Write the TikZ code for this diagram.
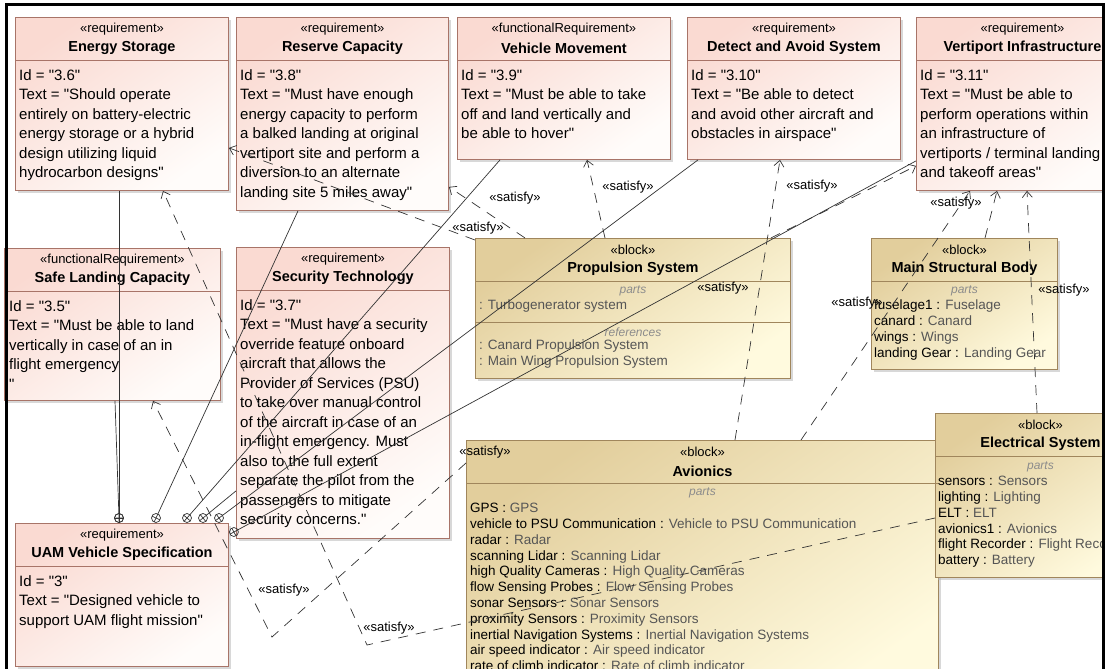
\documentclass[tikz,border=0pt]{standalone}
\usepackage{fontspec}
\setmainfont{Liberation Sans}[Ligatures=TeXOff]
\usetikzlibrary{arrows.meta,positioning,calc,shadows}
\definecolor{reqedge}{RGB}{168,116,104}
\definecolor{reqtop}{RGB}{250,218,210}
\definecolor{reqbot}{RGB}{255,252,250}
\definecolor{blkedge}{RGB}{160,134,92}
\definecolor{blktop}{RGB}{226,206,156}
\definecolor{blkbot}{RGB}{255,250,222}
\definecolor{typegray}{RGB}{85,85,85}
\newcommand\hdr[4]{%
  \node[stereo] (#1s) at ([yshift=-12pt]#1.north) {«#2»};
  \node[ttl]    (#1t) at ([yshift=-31pt]#1.north) {#3};
  \draw[draw=#4, line width=0.8pt] ([yshift=-43pt]#1.north west) -- ([yshift=-43pt]#1.north east);
}
\newcommand\own[2]{%
  \draw[own] ($(#1)!4.5pt!(#2)$) -- (#2);
  \draw[own] (#1) circle (4.5pt);
  \draw[own] ($(#1)!4.5pt!90:(#2)$) -- ($(#1)!4.5pt!-90:(#2)$);
  \draw[own] ($(#1)!-4.5pt!(#2)$) -- ($(#1)!4.5pt!(#2)$);
}
\newcommand\pp[2]{#1 : \textcolor{typegray}{#2}}
\tikzset{
  req/.style    = {draw=reqedge, line width=0.9pt, top color=reqtop, bottom color=reqbot,
                   shading angle=35, anchor=north west, inner sep=0pt,
                   drop shadow={shadow xshift=3pt, shadow yshift=-3pt, fill=black!30}},
  blk/.style    = {draw=blkedge, line width=0.9pt, top color=blktop, bottom color=blkbot,
                   shading angle=35, anchor=north west, inner sep=0pt,
                   drop shadow={shadow xshift=3pt, shadow yshift=-3pt, fill=black!30}},
  stereo/.style = {font=\fontsize{13}{15}\selectfont, inner sep=0pt},
  ttl/.style    = {font=\bfseries\fontsize{14.5}{17}\selectfont, inner sep=0pt},
  rtxt/.style   = {font=\fontsize{15}{19.5}\selectfont, align=left, anchor=north west, inner sep=0pt},
  btxt/.style   = {font=\fontsize{13.5}{15.8}\selectfont, align=left, anchor=north west, inner sep=0pt},
  cmp/.style    = {font=\itshape\fontsize{12}{14}\selectfont, text=black!45, inner sep=0pt},
  own/.style    = {line width=0.7pt, draw=black!80},
  sat/.style    = {line width=0.7pt, draw=black!80, dash pattern=on 10pt off 8pt,
                   -{Straight Barb[length=6pt, width=10pt]}},
  satl/.style   = {font=\fontsize{13}{15}\selectfont, inner sep=0pt},
}
\begin{document}
\begin{tikzpicture}[x=1pt, y=-1pt]
  \useasboundingbox (0,0) rectangle (1106,669);
  \begin{scope}
  \clip (0,0) rectangle (1103,669);
  % requirements
  \node[req, minimum width=213pt, minimum height=173pt] (es) at (15,17) {};
  \node[req, minimum width=212pt, minimum height=193pt] (rc) at (236,17) {};
  \node[req, minimum width=213pt, minimum height=142pt] (vm) at (457,17) {};
  \node[req, minimum width=213pt, minimum height=142pt] (da) at (687,17) {};
  \node[req, minimum width=212pt, minimum height=173pt] (vi) at (916,17) {};
  \node[req, minimum width=216pt, minimum height=152pt] (sl) at (4,248) {};
  \node[req, minimum width=213pt, minimum height=291pt] (st) at (236,247) {};
  \node[req, minimum width=213pt, minimum height=143pt] (uam) at (15,523) {};
  \hdr{es}{requirement}{Energy Storage}{reqedge}
  \hdr{rc}{requirement}{Reserve Capacity}{reqedge}
  \hdr{vm}{functionalRequirement}{Vehicle Movement}{reqedge}
  \hdr{da}{requirement}{Detect and Avoid System}{reqedge}
  \hdr{vi}{requirement}{Vertiport Infrastructure}{reqedge}
  \hdr{sl}{functionalRequirement}{Safe Landing Capacity}{reqedge}
  \hdr{st}{requirement}{Security Technology}{reqedge}
  \hdr{uam}{requirement}{UAM Vehicle Specification}{reqedge}
  \node[rtxt] (esb) at ([xshift=4pt,yshift=-52pt]es.north west)
    {Id = "3.6"\\Text = "Should operate\\entirely on battery-electric\\energy storage or a hybrid\\design utilizing liquid\\hydrocarbon designs"};
  \node[rtxt] (rcb) at ([xshift=4pt,yshift=-52pt]rc.north west)
    {Id = "3.8"\\Text = "Must have enough\\energy capacity to perform\\a balked landing at original\\vertiport site and perform a\\diversion to an alternate\\landing site 5 miles away"};
  \node[rtxt] (vmb) at ([xshift=4pt,yshift=-52pt]vm.north west)
    {Id = "3.9"\\Text = "Must be able to take\\off and land vertically and\\be able to hover"};
  \node[rtxt] (dab) at ([xshift=4pt,yshift=-52pt]da.north west)
    {Id = "3.10"\\Text = "Be able to detect\\and avoid other aircraft and\\obstacles in airspace"};
  \node[rtxt] (vib) at ([xshift=4pt,yshift=-52pt]vi.north west)
    {Id = "3.11"\\Text = "Must be able to\\perform operations within\\an infrastructure of\\vertiports / terminal landing\\and takeoff areas"};
  \node[rtxt] (slb) at ([xshift=5pt,yshift=-52pt]sl.north west)
    {Id = "3.5"\\Text = "Must be able to land\\vertically in case of an in\\flight emergency\\"};
  \node[rtxt] (stb) at ([xshift=4pt,yshift=-52pt]st.north west)
    {Id = "3.7"\\Text = "Must have a security\\override feature onboard\\aircraft that allows the\\Provider of Services (PSU)\\to take over manual control\\of the aircraft in case of an\\in-flight emergency. Must\\also to the full extent\\separate the pilot from the\\passengers to mitigate\\security concerns."};
  \node[rtxt] (uamb) at ([xshift=4pt,yshift=-52pt]uam.north west)
    {Id = "3"\\Text = "Designed vehicle to\\support UAM flight mission"};
  % blocks
  \node[blk, minimum width=315pt, minimum height=140pt] (ps) at (475,238) {};
  \node[blk, minimum width=186pt, minimum height=131pt] (msb) at (871,238) {};
  \node[blk, minimum width=472pt, minimum height=260pt] (av) at (466,440) {};
  \node[blk, minimum width=210pt, minimum height=164pt] (el) at (935,413) {};
  \hdr{ps}{block}{Propulsion System}{blkedge}
  \hdr{msb}{block}{Main Structural Body}{blkedge}
  \hdr{av}{block}{Avionics}{blkedge}
  \hdr{el}{block}{Electrical System}{blkedge}
  \node[cmp] (psp) at ([yshift=-53pt]ps.north) {parts};
  \node[btxt, text=typegray] (psa) at ([xshift=4pt,yshift=-62pt]ps.north west) {: Turbogenerator system};
  \draw[draw=blkedge, line width=0.8pt] ([yshift=-84pt]ps.north west) -- ([yshift=-84pt]ps.north east);
  \node[cmp] (psr) at ([yshift=-94pt]ps.north) {references};
  \node[btxt, text=typegray] (psc) at ([xshift=4pt,yshift=-102pt]ps.north west)
    {: Canard Propulsion System\\: Main Wing Propulsion System};
  \node[cmp] (msbp) at ([yshift=-53pt]msb.north) {parts};
  \node[btxt] (msba) at ([xshift=3pt,yshift=-62pt]msb.north west)
    {\pp{fuselage1}{Fuselage}\\\pp{canard}{Canard}\\\pp{wings}{Wings}\\\pp{landing Gear}{Landing Gear}};
  \node[cmp] (avp) at ([yshift=-53pt]av.north) {parts};
  \node[btxt] (ava) at ([xshift=4pt,yshift=-63pt]av.north west)
    {\pp{GPS}{GPS}\\\pp{vehicle to PSU Communication}{Vehicle to PSU Communication}\\
     \pp{radar}{Radar}\\\pp{scanning Lidar}{Scanning Lidar}\\
     \pp{high Quality Cameras}{High Quality Cameras}\\\pp{flow Sensing Probes}{Flow Sensing Probes}\\
     \pp{sonar Sensors}{Sonar Sensors}\\\pp{proximity Sensors}{Proximity Sensors}\\
     \pp{inertial Navigation Systems}{Inertial Navigation Systems}\\
     \pp{air speed indicator}{Air speed indicator}\\\pp{rate of climb indicator}{Rate of climb indicator}};
  \node[cmp] (elp) at ([yshift=-54pt]el.north) {parts};
  \node[btxt] (ela) at ([xshift=3pt,yshift=-63pt]el.north west)
    {\pp{sensors}{Sensors}\\\pp{lighting}{Lighting}\\\pp{ELT}{ELT}\\\pp{avionics1}{Avionics}\\
     \pp{flight Recorder}{Flight Recorder}\\\pp{battery}{Battery}};
  % containment
  \coordinate (c1) at ([xshift=104pt,yshift=5pt]uam.north west);
  \coordinate (c2) at ([xshift=141pt,yshift=5pt]uam.north west);
  \coordinate (c3) at ([xshift=172pt,yshift=5pt]uam.north west);
  \coordinate (c4) at ([xshift=188pt,yshift=5pt]uam.north west);
  \coordinate (c5) at ([xshift=204pt,yshift=5pt]uam.north west);
  \coordinate (c6) at ([xshift=5pt,yshift=-9pt]uam.north east);
  \coordinate (es1) at ([xshift=104pt]es.south west);
  \coordinate (sl1) at ([xshift=111pt]sl.south west);
  \coordinate (rc1) at ([xshift=62pt]rc.south west);
  \coordinate (vm1) at ([xshift=43pt]vm.south west);
  \coordinate (st1) at ([yshift=48pt]st.south west);
  \coordinate (da1) at ([xshift=11pt]da.south west);
  \coordinate (vi1) at ([yshift=30pt]vi.south west);
  \own{c1}{es1}
  \own{c1}{sl1}
  \own{c2}{rc1}
  \own{c3}{vm1}
  \own{c4}{st1}
  \own{c5}{da1}
  \own{c6}{vi1}
  % satisfy
  \coordinate (k1) at (367,645);
  \coordinate (k2) at (272,637);
  \draw[sat] ([yshift=-105pt]el.north west) -- (k1) -- ([xshift=148pt]es.south west);
  \draw[sat] ([yshift=-2pt]ps.north west) -- ([yshift=43pt]es.south east);
  \draw[sat] ([xshift=50pt]ps.north west) -- ([yshift=24pt]rc.south east);
  \draw[sat] ([xshift=130pt]ps.north west) -- ([xshift=130pt]vm.south west);
  \draw[sat] ([xshift=269pt]av.north west) -- ([xshift=93pt]da.south west);
  \draw[sat] ([xshift=-20pt]ps.north east) -- ([yshift=25pt]vi.south west);
  \draw[sat] ([xshift=335pt]av.north west) -- ([xshift=54pt]vi.south west);
  \draw[sat] ([xshift=114pt]msb.north west) -- ([xshift=81pt]vi.south west);
  \draw[sat] ([xshift=102pt]el.north west) -- ([xshift=111pt]vi.south west);
  \draw[sat] ([yshift=-23pt]av.north west) -- (k2) -- ([xshift=149pt]sl.south west);
  \node[satl] (l1) at (515,198) {«satisfy»};
  \node[satl] (l2) at (478,228) {«satisfy»};
  \node[satl] (l3) at (628,187) {«satisfy»};
  \node[satl] (l4) at (812,186) {«satisfy»};
  \node[satl] (l5) at (956,203) {«satisfy»};
  \node[satl] (l6) at (723,288) {«satisfy»};
  \node[satl] (l7) at (857,303) {«satisfy»};
  \node[satl] (l8) at (1064,290) {«satisfy»};
  \node[satl] (l9) at (485,452) {«satisfy»};
  \node[satl] (l10) at (284,590) {«satisfy»};
  \node[satl] (l11) at (389,628) {«satisfy»};
  \end{scope}
  % window frame
  \draw[line width=3pt] (6,669) -- (6,5) -- (1103,5) -- (1103,669);
\end{tikzpicture}
\end{document}
